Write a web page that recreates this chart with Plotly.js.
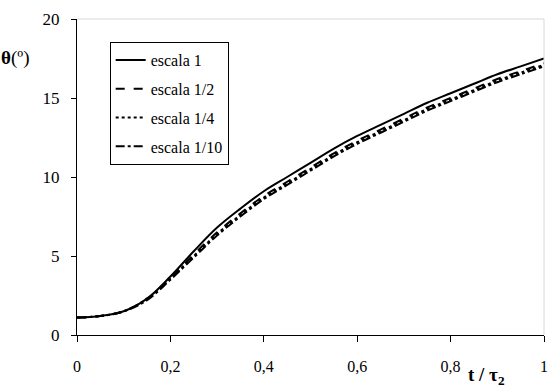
<!DOCTYPE html>
<html>
<head>
<meta charset="utf-8">
<script src="https://cdn.plot.ly/plotly-3.0.1.min.js"></script>
<style>html,body{margin:0;padding:0;background:#fff;}#chart{width:549px;height:392px;}</style>
</head>
<body>
<div id="chart"></div>
<script>
var tValues = [0, 0.05, 0.1, 0.15, 0.2, 0.25, 0.3, 0.35, 0.4, 0.45, 0.5, 0.55, 0.6, 0.65, 0.7, 0.75, 0.8, 0.85, 0.9, 0.95, 1];
var escala1 = [1.1, 1.2, 1.5, 2.3, 3.7, 5.3, 6.8, 8.0, 9.1, 10.0, 10.9, 11.8, 12.6, 13.3, 14.0, 14.7, 15.3, 15.9, 16.5, 17.0, 17.5];
var escala1_2 = [1.1, 1.2, 1.5, 2.3, 3.6, 5.1, 6.5, 7.7, 8.8, 9.7, 10.6, 11.5, 12.3, 13.0, 13.7, 14.4, 15.0, 15.6, 16.2, 16.7, 17.2];
var escala1_4 = [1.1, 1.2, 1.5, 2.3, 3.6, 5.0, 6.4, 7.6, 8.7, 9.6, 10.5, 11.4, 12.2, 12.9, 13.6, 14.3, 14.9, 15.5, 16.1, 16.6, 17.1];
var escala1_10 = [1.1, 1.2, 1.5, 2.2, 3.5, 4.9, 6.3, 7.5, 8.6, 9.5, 10.4, 11.3, 12.1, 12.8, 13.5, 14.2, 14.8, 15.4, 16.0, 16.5, 17.0];
var seriesNames = ['escala 1', 'escala 1/2', 'escala 1/4', 'escala 1/10'];
var xTickVals = [0, 0.2, 0.4, 0.6, 0.8, 1];
var xTickText = ['0', '0,2', '0,4', '0,6', '0,8', '1'];
var yTickVals = [0, 5, 10, 15, 20];

var serif = 'Times New Roman, Times, serif';
var dashes = ['solid', 'dash', 'dot', 'dashdot'];
var allY = [escala1, escala1_2, escala1_4, escala1_10];

var traces = allY.map(function (ys, i) {
  return {
    x: tValues, y: ys, name: seriesNames[i], type: 'scatter', mode: 'lines',
    line: {color: '#000', width: 2, dash: dashes[i], shape: 'spline'},
    legendgroup: 'g' + i
  };
});

var layout = {
  width: 549, height: 392,
  margin: {l: 77, r: 5, t: 19, b: 57},
  paper_bgcolor: '#fff', plot_bgcolor: '#fff',
  showlegend: true,
  separators: ',.',
  font: {family: serif, color: '#000', size: 15},
  xaxis: {
    range: [0, 1], tickvals: xTickVals, ticktext: xTickText,
    showgrid: false, zeroline: false, showline: true, linecolor: '#000', linewidth: 1,
    ticks: 'outside', ticklen: 6, tickcolor: '#000',
    ticklabelstandoff: 11, ticklabeloverflow: 'allow',
    tickfont: {family: serif, size: 16, color: '#000'}
  },
  yaxis: {
    range: [0, 20], tickvals: yTickVals,
    showgrid: false, zeroline: false, showline: true, linecolor: '#000', linewidth: 1,
    ticks: 'outside', ticklen: 5, tickcolor: '#000',
    ticklabelstandoff: 8, ticklabeloverflow: 'allow',
    tickfont: {family: serif, size: 17, color: '#000'}
  },
  legend: {
    x: 0.07, y: 0.927, xanchor: 'left', yanchor: 'top',
    bgcolor: '#fff', bordercolor: '#000', borderwidth: 1,
    font: {family: serif, size: 16, color: '#000'},
    tracegroupgap: 5, itemwidth: 30
  },
  shapes: [
    {type: 'line', xref: 'paper', yref: 'paper', x0: 0, x1: 1, y0: 1, y1: 1, line: {color: '#d8d8d8', width: 1}},
    {type: 'line', xref: 'paper', yref: 'paper', x0: 1, x1: 1, y0: 0, y1: 1, line: {color: '#d8d8d8', width: 1}}
  ],
  annotations: [
    {xref: 'paper', yref: 'paper', x: 0.877, y: -0.13, xanchor: 'center', yanchor: 'middle', showarrow: false,
     text: '<b>t / τ<sub>2</sub></b>', font: {family: serif, size: 19, color: '#000'}},
    {xref: 'paper', yref: 'paper', x: -0.133, y: 0.876, xanchor: 'center', yanchor: 'middle', showarrow: false,
     text: '<b>θ</b>(º)', font: {family: serif, size: 19, color: '#000'}}
  ]
};

Plotly.newPlot('chart', traces, layout, {displayModeBar: false, staticPlot: true});
</script>
</body>
</html>
